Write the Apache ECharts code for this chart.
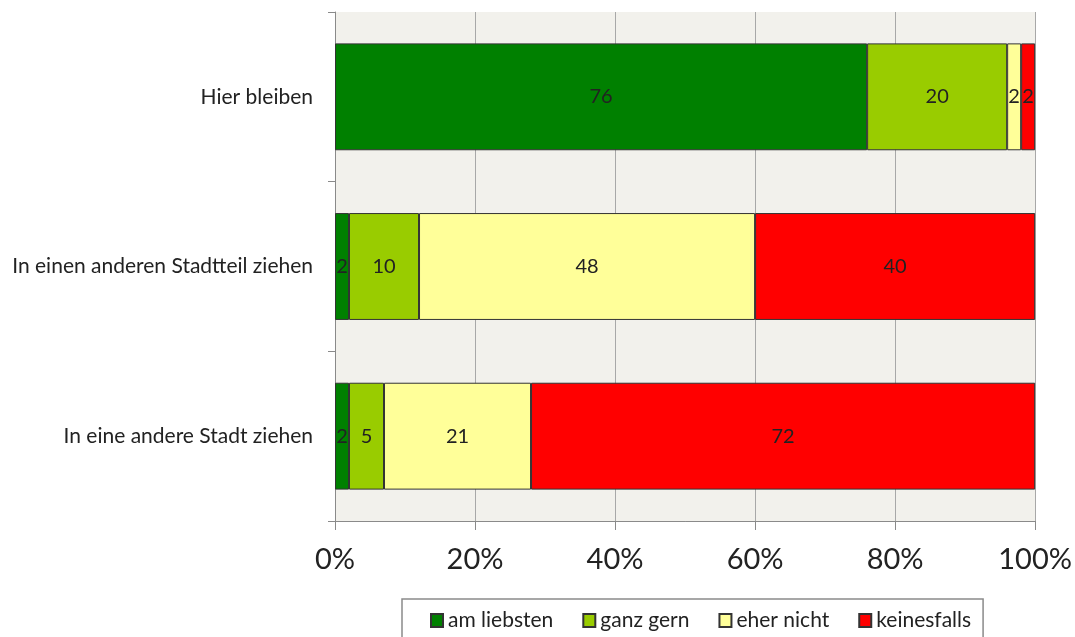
<!DOCTYPE html>
<html>
<head>
<meta charset="utf-8">
<script src="https://cdn.jsdelivr.net/npm/echarts@6/dist/echarts.min.js"></script>
<style>html,body{margin:0;padding:0;background:#fff}#c{width:1075px;height:637px}</style>
</head>
<body>
<div id="c"></div>
<script>
const categories = ['Hier bleiben', 'In einen anderen Stadtteil ziehen', 'In eine andere Stadt ziehen'];
const seriesNames = ['am liebsten', 'ganz gern', 'eher nicht', 'keinesfalls'];
const amLiebsten = [76, 2, 2];
const ganzGern = [20, 10, 5];
const eherNicht = [2, 48, 21];
const keinesfalls = [2, 40, 72];
const xTicks = [0, 20, 40, 60, 80, 100];

const colors = ['#008000', '#99CC00', '#FFFF99', '#FF0000'];
const values = [amLiebsten, ganzGern, eherNicht, keinesfalls];
const font = 'Lato, "Open Sans", sans-serif';

const chart = echarts.init(document.getElementById('c'));
chart.setOption({
  animation: false,
  textStyle: { fontFamily: font },
  grid: { left: 335, right: 39, top: 12, bottom: 116, backgroundColor: '#F2F1EC', show: true, borderWidth: 0 },
  legend: {
    left: 402, top: 599,
    padding: [11, 12, 12, 28],
    borderColor: '#8a8a8a', borderWidth: 1.5,
    itemWidth: 12, itemHeight: 13, itemGap: 29,
    icon: 'rect',
    textStyle: { fontSize: 21, color: '#222', fontFamily: font },
    data: seriesNames
  },
  xAxis: {
    type: 'value', min: xTicks[0], max: xTicks[xTicks.length - 1], interval: 20,
    axisLine: { show: true, lineStyle: { color: '#8a8a8a' } },
    axisTick: { show: true, length: 9, lineStyle: { color: '#8a8a8a' } },
    splitLine: { show: true, lineStyle: { color: '#a8a8a8', width: 1 } },
    axisLabel: { formatter: '{value}%', fontSize: 29, color: '#222', margin: 24, fontFamily: font }
  },
  yAxis: {
    type: 'category', data: categories, inverse: true,
    axisLine: { show: true, lineStyle: { color: '#8a8a8a' } },
    axisTick: { show: true, length: 7, lineStyle: { color: '#8a8a8a' } },
    axisLabel: { fontSize: 21, color: '#222', margin: 22, fontFamily: font }
  },
  series: seriesNames.map((n, i) => ({
    name: n, type: 'bar', stack: 'a', data: values[i], barWidth: '63%',
    itemStyle: { color: colors[i], borderColor: '#333', borderWidth: 1 },
    label: { show: true, position: 'inside', fontSize: 20, color: '#222', fontFamily: font }
  }))
});
</script>
</body>
</html>
